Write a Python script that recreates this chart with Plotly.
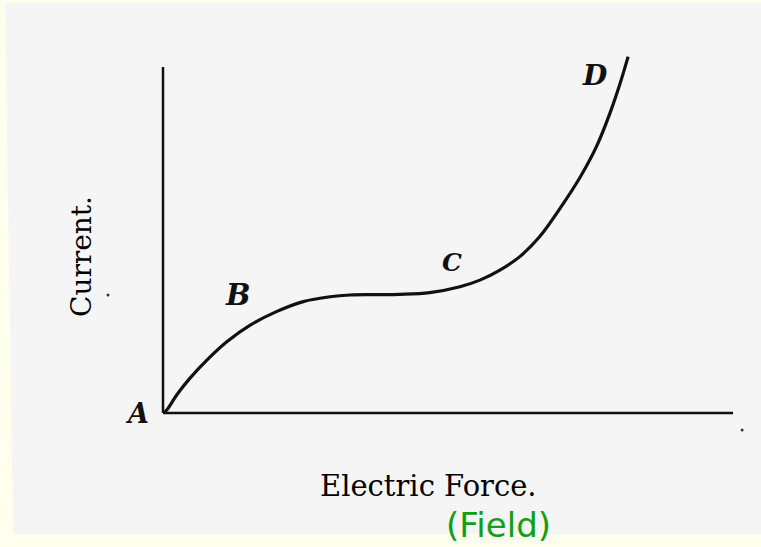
import plotly.graph_objects as go

W, H = 761, 547

# Curve: electric force (x) vs current (y), arbitrary units (axis length = 10)
force = [0.0, 0.065, 0.24, 0.47, 0.77, 1.12, 1.53, 1.99, 2.46, 2.93, 3.28, 3.72, 4.16,
         4.68, 5.21, 5.56, 5.91, 6.26, 6.61, 6.96, 7.32, 7.61, 7.84, 8.02, 8.16]
current = [0.0, 0.087, 0.52, 1.00, 1.53, 2.06, 2.54, 2.93, 3.22, 3.36, 3.41, 3.42, 3.43,
           3.48, 3.65, 3.84, 4.13, 4.52, 5.10, 5.90, 6.82, 7.72, 8.66, 9.53, 10.30]

axis_len_x = 10.0
axis_len_y = 10.0

point_labels = ["A", "B", "C", "D"]
x_title = "Electric Force."
y_title = "Current."
note = "(Field)"

# Mapping of the figure (pixel layout of the scan)
ox, oy = 163, 413          # origin in pixels
sx, sy = 57.0, 34.6        # pixels per unit
x_range = [-ox / sx, (W - ox) / sx]
y_range = [-(H - oy) / sy, oy / sy]


def px(x, y):
    return x / W, 1 - y / H


ink = "#111111"
fig = go.Figure()

# scan background
fig.add_shape(type="path", xref="paper", yref="paper",
              path=f"M {5/W},{1-3/H} L 1,{1-3/H} L 1,{1-534/H} L {13/W},{1-534/H} Z",
              fillcolor="#f5f5f5", line=dict(width=0), layer="below")

# axes drawn in data coordinates
fig.add_shape(type="line", xref="x", yref="y", x0=0, y0=0, x1=0, y1=axis_len_y,
              line=dict(color=ink, width=2.5))
fig.add_shape(type="line", xref="x", yref="y", x0=0, y0=0, x1=axis_len_x, y1=0,
              line=dict(color=ink, width=2.5))

fig.add_trace(go.Scatter(x=force, y=current, mode="lines",
                         line=dict(color=ink, width=3.2, shape="spline", smoothing=1.0),
                         hoverinfo="skip", showlegend=False))

# specks in the scan
speck_x = [10.16, -0.965]
speck_y = [-0.49, 3.41]
fig.add_trace(go.Scatter(x=speck_x, y=speck_y, mode="markers",
                         marker=dict(color="#333333", size=3), hoverinfo="skip",
                         showlegend=False))

serif = "DejaVu Serif"
lab_pos = [(137, 413, 27), (238, 295, 29), (452, 263, 25), (595, 76, 28)]
for t, (lx, ly, fs) in zip(point_labels, lab_pos):
    x, y = px(lx, ly)
    fig.add_annotation(x=x, y=y, xref="paper", yref="paper", text=f"<b><i>{t}</i></b>",
                       showarrow=False, xanchor="center", yanchor="middle",
                       font=dict(family=serif, size=fs, color=ink))

x, y = px(428, 486)
fig.add_annotation(x=x, y=y, xref="paper", yref="paper", text=x_title, showarrow=False,
                   xanchor="center", yanchor="middle",
                   font=dict(family=serif, size=29, color="#000000"))
x, y = px(81, 257)
fig.add_annotation(x=x, y=y, xref="paper", yref="paper", text=y_title, showarrow=False,
                   textangle=-90, xanchor="center", yanchor="middle",
                   font=dict(family=serif, size=28, color="#000000"))
x, y = px(498, 525)
fig.add_annotation(x=x, y=y, xref="paper", yref="paper", text=note, showarrow=False,
                   xanchor="center", yanchor="middle",
                   font=dict(family="DejaVu Sans", size=34, color="#10a010"))

fig.update_layout(
    width=W, height=H, margin=dict(l=0, r=0, t=0, b=0),
    paper_bgcolor="#ffffee", plot_bgcolor="rgba(0,0,0,0)",
    xaxis=dict(range=x_range, visible=False, fixedrange=True),
    yaxis=dict(range=y_range, visible=False, fixedrange=True),
    showlegend=False,
)
fig.write_html("out.html", include_plotlyjs=True, config={"displayModeBar": False},
               post_script="document.body.style.margin='0px';document.body.style.overflow='hidden';")
